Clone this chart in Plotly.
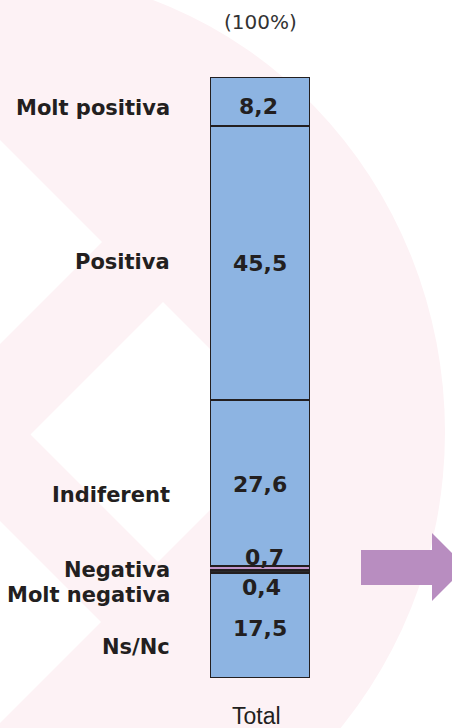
import plotly.graph_objects as go

# ---- data (top to bottom as shown) ----
categories = ["Molt positiva", "Positiva", "Indiferent", "Negativa", "Molt negativa", "Ns/Nc"]
values = [8.2, 45.5, 27.6, 0.7, 0.4, 17.5]
value_labels = ["8,2", "45,5", "27,6", "0,7", "0,4", "17,5"]
bar_category = ["Total"]
header_text = "(100%)"

# ---- styles / positions ----
W, H = 452, 728
BLUE = "#8DB4E2"
PINK = "#C195CB"
DARK = "#2A2A2C"
colors = [BLUE, BLUE, BLUE, PINK, DARK, BLUE]
line_widths = [2.5, 2.5, 2.5, 1, 2.5, 2.5]
cat_shift = [6.5, -1, 11.5, 1.5, 23, 22]      # px down from segment centre
val_shift = [5, 0.5, 1, -10.5, 16, 3]
val_xshift = [-2, 0, 0, 4, 1, 0]

def px(x):
    return x / W

def py(y):
    return 1 - y / H

fig = go.Figure()

# stack from bottom to top
order = list(range(len(categories)))[::-1]
for i in order:
    fig.add_trace(go.Bar(
        x=bar_category, y=[values[i]], name=categories[i],
        marker=dict(color=colors[i], line=dict(color="#231F20", width=line_widths[i])),
        hoverinfo="skip", showlegend=False,
    ))

total = sum(values)
centres = {}
acc = 0
for i in order:
    centres[i] = acc + values[i] / 2
    acc += values[i]

annotations = []
for i in range(len(categories)):
    annotations.append(dict(
        x=px(172), xref="paper", xanchor="right",
        y=centres[i], yref="y", yanchor="middle", yshift=-cat_shift[i],
        text=categories[i], showarrow=False,
        font=dict(family="DejaVu Sans", size=21, color="#231F20", weight="bold"),
    ))
    annotations.append(dict(
        x=bar_category[0], xref="x", xanchor="center", xshift=val_xshift[i],
        y=centres[i], yref="y", yanchor="middle", yshift=-val_shift[i],
        text=value_labels[i], showarrow=False,
        font=dict(family="DejaVu Sans", size=22, color="#231F20", weight="bold"),
    ))

annotations.append(dict(
    x=px(260), xref="paper", y=py(22), yref="paper", xanchor="center", yanchor="middle",
    text=header_text, showarrow=False,
    font=dict(family="DejaVu Sans", size=20, color="#333333"),
))
annotations.append(dict(
    x=px(256), xref="paper", y=py(716), yref="paper", xanchor="center", yanchor="middle",
    text=bar_category[0], showarrow=False,
    font=dict(family="Liberation Sans", size=23, color="#231F20"),
))

def poly(points):
    return "M " + " L ".join(f"{px(x):.5f},{py(y):.5f}" for x, y in points) + " Z"

WM = "#FDF2F5"
shapes = [
    dict(type="circle", xref="paper", yref="paper",
         x0=px(-445), x1=px(445), y0=py(432 + 460), y1=py(432 - 460),
         fillcolor=WM, line=dict(width=0), layer="below"),
    dict(type="path", xref="paper", yref="paper",
         path=poly([(-10, 130), (102, 242), (-10, 354)]),
         fillcolor="white", line=dict(width=0), layer="below"),
    dict(type="path", xref="paper", yref="paper",
         path=poly([(163, 302), (30.5, 434.5), (158, 562), (290.5, 429.5)]),
         fillcolor="white", line=dict(width=0), layer="below"),
    dict(type="path", xref="paper", yref="paper",
         path=poly([(-10, 511), (101, 622), (-10, 733)]),
         fillcolor="white", line=dict(width=0), layer="below"),
    # arrow
    dict(type="path", xref="paper", yref="paper",
         path=poly([(361, 550), (432, 550), (432, 533), (466, 567), (432, 601), (432, 585), (361, 585)]),
         fillcolor="#B88DC0", line=dict(width=0), layer="above"),
]

fig.update_layout(
    width=W, height=H,
    margin=dict(l=0, r=0, t=0, b=0),
    paper_bgcolor="white", plot_bgcolor="rgba(0,0,0,0)",
    barmode="stack", bargap=0,
    xaxis=dict(domain=[px(210), px(310)], range=[-0.5, 0.5], visible=False, fixedrange=True),
    yaxis=dict(domain=[py(678), py(77)], range=[0, total], visible=False, fixedrange=True),
    annotations=annotations, shapes=shapes,
)

fig.write_html(
    "out.html",
    config={"displayModeBar": False},
    post_script="document.body.style.margin='0';document.body.style.padding='0';document.body.style.overflow='hidden';",
)
